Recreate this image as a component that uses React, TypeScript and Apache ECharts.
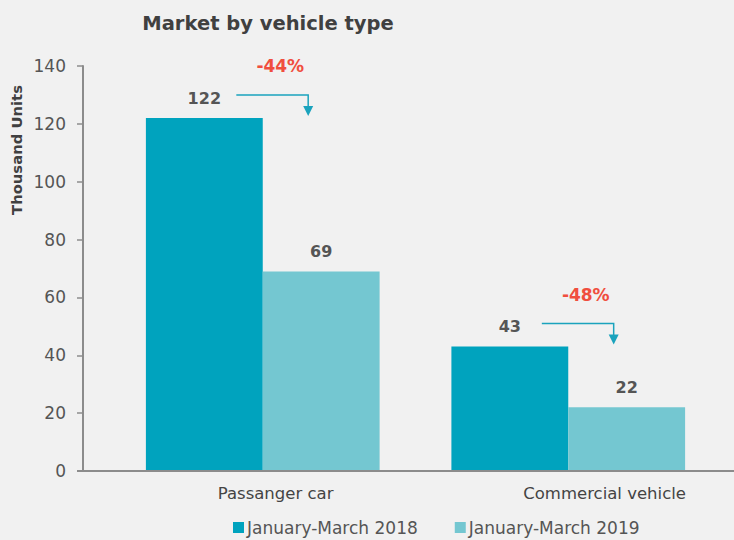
import React, { useEffect, useRef } from "react";
import * as echarts from "echarts";

const categories = ["Passanger car", "Commercial vehicle"];
const series2018 = [122, 43];
const series2019 = [69, 22];
const changeLabels = ["-44%", "-48%"];
const seriesNames = ["January-March 2018", "January-March 2019"];
const yTicks = { min: 0, max: 140, interval: 20 };

const FONT = "'DejaVu Sans', 'Noto Sans', sans-serif";
const C1 = "#00a3be";
const C2 = "#74c7d1";
const TXT = "#555555";

export default function App() {
  const ref = useRef<HTMLDivElement>(null);
  useEffect(() => {
    if (!ref.current) return;
    const chart = echarts.init(ref.current, null, { renderer: "svg" });
    const option: any = {
      animation: false,
      backgroundColor: "#f1f1f1",
      textStyle: { fontFamily: FONT },
      title: {
        text: "Market by vehicle type",
        left: 263,
        textAlign: "center",
        top: 8,
        textStyle: { fontFamily: FONT, fontWeight: "bold", fontSize: 19.5, color: "#404040" },
      },
      legend: {
        top: 514,
        left: 228,
        itemWidth: 11,
        itemHeight: 11,
        itemGap: 37,
        icon: "rect",
        textStyle: { fontFamily: FONT, fontSize: 17, color: TXT, padding: [0, 0, 0, -2] },
        data: seriesNames,
      },
      grid: { left: 110, right: 13, top: 66, bottom: 69, containLabel: false },
      xAxis: {
        type: "category",
        data: categories,
        axisLine: { show: false },
        axisTick: { show: false },
        axisLabel: {
          margin: 14,
          fontSize: 16.5,
          color: "#444",
          fontFamily: FONT,
          align: "left",
          padding: [0, 0, 0, -45],
        },
      },
      yAxis: {
        type: "value",
        min: yTicks.min,
        max: yTicks.max,
        interval: yTicks.interval,
        offset: 27,
        splitLine: { show: false },
        axisLine: { show: true, lineStyle: { color: "#8c8c8c", width: 2 } },
        axisTick: { show: true, length: 6, lineStyle: { color: "#8c8c8c", width: 1.5 } },
        axisLabel: { margin: 17, fontSize: 17, color: TXT, fontFamily: FONT },
      },
      series: [
        {
          name: seriesNames[0],
          type: "bar",
          data: series2018,
          barGap: "0%",
          barCategoryGap: "23.5%",
          itemStyle: { color: C1 },
          label: { show: true, position: "top", distance: 12, fontSize: 16, fontWeight: "bold", color: TXT, fontFamily: FONT },
        },
        {
          name: seriesNames[1],
          type: "bar",
          data: series2019,
          itemStyle: { color: C2 },
          label: { show: true, position: "top", distance: 12, fontSize: 16, fontWeight: "bold", color: TXT, fontFamily: FONT },
        },
      ],
    };
    chart.setOption(option);

    const graphics: any[] = [];
    const x0 = chart.convertToPixel({ xAxisIndex: 0 }, categories[0]) as number;
    const x1 = chart.convertToPixel({ xAxisIndex: 0 }, categories[1]) as number;
    const band = x1 - x0;
    const barW = (band * (1 - 0.235)) / 2;
    const yZero = chart.convertToPixel({ yAxisIndex: 0 }, 0) as number;
    graphics.push({
      type: "line",
      shape: { x1: 77, y1: yZero, x2: 734, y2: yZero },
      style: { stroke: "#8c8c8c", lineWidth: 2 },
      z: 10,
    });
    graphics.push({
      type: "text",
      x: 16,
      y: 150,
      rotation: Math.PI / 2,
      style: {
        text: "Thousand Units",
        fontFamily: FONT,
        fontSize: 14.8,
        fontWeight: "bold",
        fill: "#404040",
        align: "center",
        verticalAlign: "middle",
      },
    });
    categories.forEach((c, i) => {
      const cx = chart.convertToPixel({ xAxisIndex: 0 }, c) as number;
      const yTop = chart.convertToPixel({ yAxisIndex: 0 }, series2018[i]) as number;
      const c1 = cx - barW / 2;
      const c2 = cx + barW / 2;
      const xs = c1 + 32;
      const xe = c2 - 13;
      const yh = yTop - 23;
      const tip = yTop - 2;
      graphics.push({
        type: "polyline",
        shape: { points: [[xs, yh], [xe, yh], [xe, tip - 8]] },
        style: { stroke: "#1aa3bd", lineWidth: 1.5, fill: null },
      });
      graphics.push({
        type: "polygon",
        shape: { points: [[xe - 5, tip - 10], [xe + 5, tip - 10], [xe, tip]] },
        style: { fill: "#1aa3bd" },
      });
      graphics.push({
        type: "text",
        x: (xs + xe) / 2 + 8,
        y: yTop - 52,
        style: {
          text: changeLabels[i],
          fontFamily: FONT,
          fontSize: 17,
          fontWeight: "bold",
          fill: "#f04e3e",
          align: "center",
          verticalAlign: "middle",
        },
      });
    });
    chart.setOption({ graphic: graphics });
    return () => chart.dispose();
  }, []);
  return (
    <div
      ref={ref}
      style={{ position: "fixed", left: 0, top: 0, width: 734, height: 540 }}
    />
  );
}
